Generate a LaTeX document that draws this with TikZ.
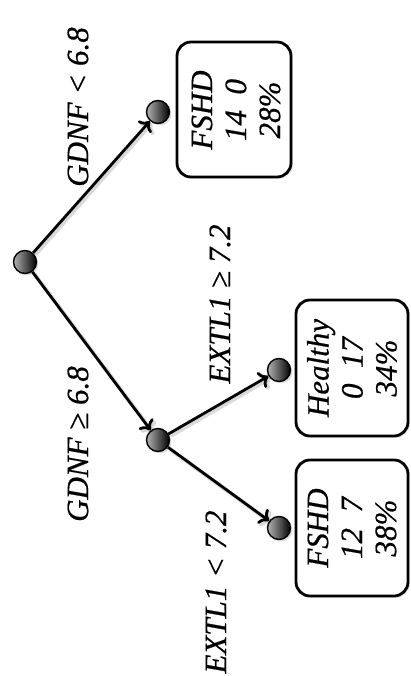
\documentclass[tikz,border=0pt]{standalone}
\usepackage{fontspec}
\setmainfont[ItalicFeatures={FakeBold=0.6}]{Liberation Serif}
\usetikzlibrary{arrows.meta,shadows}
\begin{document}
\begin{tikzpicture}[x=1pt,y=-1pt,
  every node/.style={font=\fontsize{31}{34}\selectfont\itshape},
  split/.style={circle, draw=black, line width=1.4pt, minimum size=23pt, inner sep=0pt,
    shading=axis, left color=gray!60, right color=black, shading angle=90,
    drop shadow={opacity=0.25, shadow xshift=2pt, shadow yshift=-2pt}},
  leaf/.style={draw=black, line width=2.8pt, rounded corners=14pt, fill=white,
    drop shadow={opacity=0.15, shadow xshift=2pt, shadow yshift=-2pt}},
  leaftext/.style={rotate=90, align=center, inner sep=0pt},
  cond/.style={rotate=90, inner sep=0pt},
  branch/.style={line width=2.8pt, -{To[length=9pt,width=18pt]},
    preaction={draw=black, opacity=0.15, line width=4pt, transform canvas={shift={(2pt,-2pt)}}}}
]
\useasboundingbox (0,0) rectangle (410,676);

% leaf boxes
\draw[leaf] (177,42) rectangle (291,177);
\draw[leaf] (296,300) rectangle (408,436);
\draw[leaf] (296,460) rectangle (408,596);

\node[leaftext] (leafA) at (236,110) {FSHD\\14\ \ 0\\28\%};
\node[leaftext] (leafC) at (352,368) {Healthy\\0\ \ 17\\34\%};
\node[leaftext] (leafD) at (352,528) {FSHD\\12\ \ 7\\38\%};

% split points
\node[split] (root) at (25,262) {};
\node[split] (a) at (158,112) {};
\node[split] (b) at (158,440) {};
\node[split] (c) at (279,370) {};
\node[split] (d) at (279,528) {};

% branches
\draw[branch] (root) -- (a);
\draw[branch] (root) -- (b);
\draw[branch] (b) -- (c);
\draw[branch] (b) -- (d);

% split conditions
\node[cond] (ca) at (78,107) {GDNF < 6.8};
\node[cond] (cb) at (78,444) {GDNF ≥ 6.8};
\node[cond] (cc) at (220,304) {EXTL1 ≥ 7.2};
\node[cond] (cd) at (216,592) {EXTL1 < 7.2};
\end{tikzpicture}
\end{document}
